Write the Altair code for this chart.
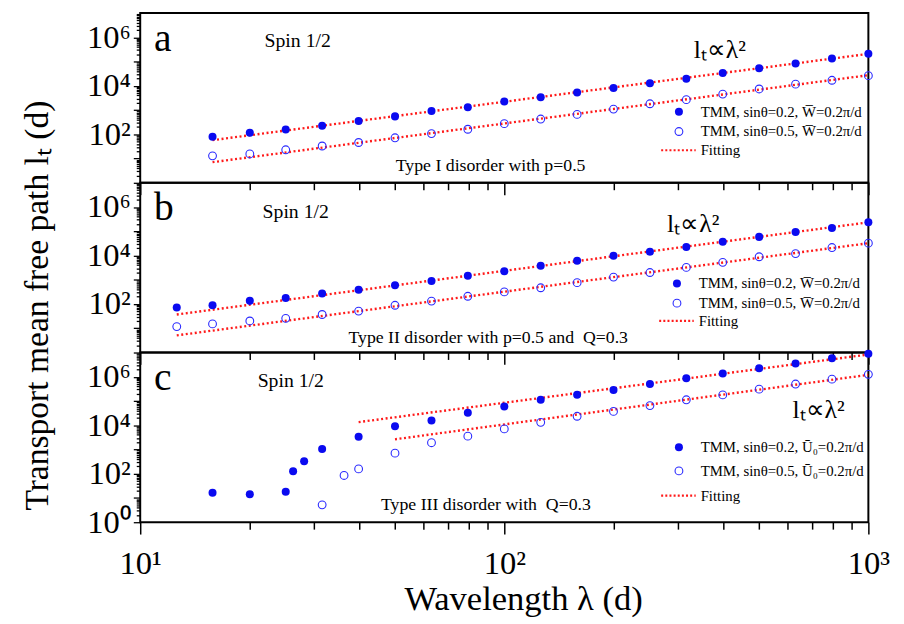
import altair as alt
import pandas as pd

FONT = "Liberation Serif"
BLUE = "#0a0af0"
BLUE_OPEN = "#2a2aff"
RED = "#ff1a1a"

# ---------------- data ----------------
# Panel a : Type I disorder
a_solid_lam = [15.8, 20.0, 25.1, 31.6, 39.8, 50.1, 63.1, 79.4, 100, 125.9, 158.5, 199.5, 251.2, 316.2, 398.1, 501.2, 631.0, 794.3, 1000]
a_solid_val = [79, 115, 158, 224, 355, 550, 912, 1318, 2239, 3388, 5370, 8128, 12882, 19498, 33884, 53703, 83176, 134896, 208930]
a_open_lam = [15.8, 20.0, 25.1, 31.6, 39.8, 50.1, 63.1, 79.4, 100, 125.9, 158.5, 199.5, 251.2, 316.2, 398.1, 501.2, 631.0, 794.3, 1000]
a_open_val = [13, 15.5, 23, 33, 46, 72, 107, 162, 275, 427, 661, 1096, 1820, 2692, 4571, 7413, 11749, 16982, 26303]
a_fit_solid_lam = [15.8, 1000]
a_fit_solid_val = [57.5, 208930]
a_fit_open_lam = [15.8, 1000]
a_fit_open_val = [7.1, 27542]

# Panel b : Type II disorder
b_solid_lam = [12.6, 15.8, 20.0, 25.1, 31.6, 39.8, 50.1, 63.1, 79.4, 100, 125.9, 158.5, 199.5, 251.2, 316.2, 398.1, 501.2, 631.0, 794.3, 1000]
b_solid_val = [72, 89, 135, 178, 269, 389, 589, 891, 1479, 2239, 3802, 6166, 9772, 14454, 22387, 37154, 58884, 93325, 138038, 234423]
b_open_lam = [12.6, 15.8, 20.0, 25.1, 31.6, 39.8, 50.1, 63.1, 79.4, 100, 125.9, 158.5, 199.5, 251.2, 316.2, 398.1, 501.2, 631.0, 794.3, 1000]
b_open_val = [11.7, 15.1, 20, 25.7, 37, 51, 89, 132, 209, 316, 468, 759, 1288, 1995, 3236, 5248, 8913, 12023, 21380, 32359]
b_fit_solid_lam = [12.6, 1000]
b_fit_solid_val = [37, 234423]
b_fit_open_lam = [12.6, 1000]
b_fit_open_val = [5.1, 32359]

# Panel c : Type III disorder
c_solid_lam = [15.8, 20.0, 25.1, 26.3, 28.2, 31.6, 39.8, 50.1, 63.1, 79.4, 100, 125.9, 158.5, 199.5, 251.2, 316.2, 398.1, 501.2, 631.0, 794.3, 1000]
c_solid_val = [16.6, 14.1, 18.2, 126, 324, 1047, 3388, 9120, 15849, 33113, 58884, 112202, 181970, 281838, 501187, 870964, 1348963, 2238721, 3548134, 5754399, 8912509]
c_open_lam = [31.6, 36.3, 39.8, 50.1, 63.1, 79.4, 100, 125.9, 158.5, 199.5, 251.2, 316.2, 398.1, 501.2, 631.0, 794.3, 1000]
c_open_val = [5.2, 85, 158, 708, 1905, 3548, 7079, 13183, 23442, 37154, 64565, 112202, 177828, 309030, 501187, 794328, 1258925]
c_fit_solid_lam = [39.8, 1000]
c_fit_solid_val = [13490, 8317638]
c_fit_open_lam = [50.1, 1000]
c_fit_open_val = [2630, 1202264]

# axis ticks / labels
x_major = [10, 100, 1000]
x_ticks = [10, 20, 30, 40, 50, 60, 70, 80, 90, 100, 200, 300, 400, 500, 600, 700, 800, 900, 1000]
x_tick_labels = {10: "10¹", 100: "10²", 1000: "10³"}
y_major = [1, 10, 100, 1000, 10000, 100000, 1000000, 10000000]
y_ticks = sorted(set([m * d for d in y_major[:-1] for m in range(1, 10)]))
y_tick_labels_ab = {100: "10²", 10000: "10⁴", 1000000: "10⁶"}
y_tick_labels_c = {1: "10⁰", 100: "10²", 10000: "10⁴", 1000000: "10⁶"}

legend_ab = ["TMM, sinθ=0.2, W\u0305=0.2π/d", "TMM, sinθ=0.5, W\u0305=0.2π/d", "Fitting"]
legend_c = ["TMM, sinθ=0.2, Ū₀=0.2π/d", "TMM, sinθ=0.5, Ū₀=0.2π/d", "Fitting"]

W, H = 738, 172
xscale = alt.Scale(type="log", domain=[10, 1000])
yscale = alt.Scale(type="log", domain=[1, 10000000])


def label_expr(mapping):
    parts = "".join(f"datum.value == {k} ? '{v}' : " for k, v in mapping.items())
    return parts + "''"


def in_list(keys):
    return f"indexof({list(keys)}, datum.value) >= 0"


def x_axis(show_labels):
    kw = dict(
        values=x_ticks,
        tickSize={"condition": {"test": in_list(x_major), "value": 12}, "value": 7},
        tickColor="black", tickWidth=1.5, domain=False, grid=False,
        labelOverlap=False, labelFlush=False,
    )
    if show_labels:
        kw.update(labelExpr=label_expr(x_tick_labels), labelFont=FONT,
                  labelFontSize={"condition": {"test": in_list(x_tick_labels.keys()), "value": 33}, "value": 1},
                  labelColor="black", labelPadding=14,
                  title="Wavelength λ (d)", titleFont=FONT, titleFontSize=35,
                  titleFontWeight="normal", titleColor="black",
                  titleX=388, titleY=88, titleBaseline="alphabetic")
    else:
        kw.update(labels=False, title=None)
    return alt.Axis(**kw)


def y_axis(mapping, title):
    kw = dict(
        values=y_ticks,
        tickSize={"condition": {"test": in_list(y_major), "value": 7}, "value": 4},
        tickColor="black", tickWidth=1.3, domain=False, grid=False,
        labelExpr=label_expr(mapping), labelFont=FONT,
        labelFontSize={"condition": {"test": in_list(mapping.keys()), "value": 33}, "value": 1},
        labelColor="black", labelPadding=3, labelOverlap=False, labelFlush=False,
        labelBaseline="middle",
    )
    if title:
        kw.update(title="Transport mean free path lₜ (d)", titleFont=FONT, titleFontSize=34,
                  titleFontWeight="normal", titleColor="black", titleX=-87, titleY=124)
    else:
        kw.update(title=None)
    return alt.Axis(**kw)


def text_layer(txt, x, y, size, align="left", baseline="alphabetic"):
    return alt.Chart(pd.DataFrame({"t": [txt]})).mark_text(
        font=FONT, fontSize=size, align=align, baseline=baseline, color="black"
    ).encode(text="t:N", x=alt.value(x), y=alt.value(y))


def panel(solid_lam, solid_val, open_lam, open_val, fits, letter, spin_xy,
          type_text, type_xy, law_xy, leg_labels, leg_x, leg_rows, show_x, ymap, ytitle):
    xe = alt.X("lam:Q", scale=xscale, axis=x_axis(show_x))
    ye = alt.Y("val:Q", scale=yscale, axis=y_axis(ymap, ytitle))

    rows = []
    for gi, (fl, fv) in enumerate(fits):
        for l, v in zip(fl, fv):
            rows.append({"lam": l, "val": v, "g": gi})
    fit_df = pd.DataFrame(rows)
    fit = alt.Chart(fit_df).mark_line(color=RED, strokeWidth=2.4, strokeDash=[2, 2.6], clip=True).encode(
        x=xe, y=ye, detail="g:N")

    solid = alt.Chart(pd.DataFrame({"lam": solid_lam, "val": solid_val})).mark_point(
        shape="circle", filled=True, size=66, color=BLUE, opacity=1).encode(x=xe, y=ye)
    opn = alt.Chart(pd.DataFrame({"lam": open_lam, "val": open_val})).mark_point(
        shape="circle", filled=False, size=62, color=BLUE_OPEN, strokeWidth=1.1, opacity=1).encode(x=xe, y=ye)

    layers = [fit, solid, opn]
    layers.append(text_layer(letter, 14, 38, 40))
    layers.append(text_layer("Spin 1/2", spin_xy[0], spin_xy[1], 20))
    layers.append(text_layer(type_text, type_xy[0], type_xy[1], 18))
    layers.append(text_layer("lₜ∝λ²", law_xy[0], law_xy[1], 26))

    one = pd.DataFrame({"k": [0]})
    layers.append(alt.Chart(one).mark_point(shape="circle", filled=True, size=66, color=BLUE, opacity=1)
                  .encode(x=alt.value(leg_x), y=alt.value(leg_rows[0])))
    layers.append(alt.Chart(one).mark_point(shape="circle", filled=False, size=62, color=BLUE_OPEN,
                                            strokeWidth=1.1, opacity=1)
                  .encode(x=alt.value(leg_x), y=alt.value(leg_rows[1])))
    layers.append(alt.Chart(one).mark_rule(color=RED, strokeWidth=2.2, strokeDash=[2, 2.2])
                  .encode(x=alt.value(leg_x - 18), x2=alt.value(leg_x + 17), y=alt.value(leg_rows[2])))
    for lab, ry in zip(leg_labels, leg_rows):
        layers.append(text_layer(lab, leg_x + 22, ry, 15, baseline="middle"))

    return alt.layer(*layers).properties(width=W, height=H)


pa = panel(a_solid_lam, a_solid_val, a_open_lam, a_open_val,
           [(a_fit_solid_lam, a_fit_solid_val), (a_fit_open_lam, a_fit_open_val)],
           "a", (126, 34), "Type I disorder with p=0.5", (259, 160), (561, 45),
           legend_ab, 546, [100, 120, 139], False, y_tick_labels_ab, False)
pb = panel(b_solid_lam, b_solid_val, b_open_lam, b_open_val,
           [(b_fit_solid_lam, b_fit_solid_val), (b_fit_open_lam, b_fit_open_val)],
           "b", (124, 36), "Type II disorder with p=0.5 and\u00a0\u00a0Q=0.3", (211, 162), (534, 50),
           legend_ab, 544, [102, 122, 140], False, y_tick_labels_ab, True)
pc = panel(c_solid_lam, c_solid_val, c_open_lam, c_open_val,
           [(c_fit_solid_lam, c_fit_solid_val), (c_fit_open_lam, c_fit_open_val)],
           "c", (119, 35), "Type III disorder with\u00a0\u00a0Q=0.3", (244, 160), (661, 66),
           legend_c, 546, [96, 120, 145], True, y_tick_labels_c, False)

chart = alt.vconcat(pa, pb, pc, spacing=0, bounds="flush").configure_view(
    stroke="black", strokeWidth=2
).properties(
    padding={"left": 11, "top": 0, "right": 5, "bottom": 5},
    background="white",
)

chart.save("out.html", embed_options={"renderer": "svg", "actions": False})
